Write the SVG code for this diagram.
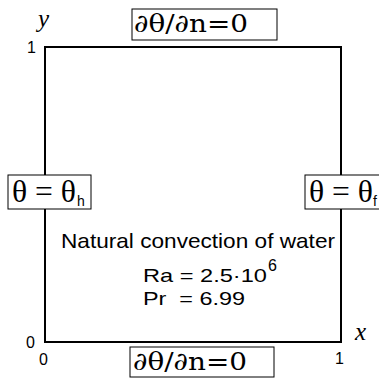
<svg xmlns="http://www.w3.org/2000/svg" width="379" height="378" viewBox="0 0 379 378">
<style>
.box{fill:#fff;stroke:#000;stroke-width:1}
.bc{font-family:"DejaVu Serif","Liberation Serif",serif;font-size:25px}
.th{font-family:"Liberation Serif",serif;font-size:31px}
.sub{font-family:"Liberation Sans",Arial,sans-serif;font-size:14px}
.ax{font-family:"Liberation Serif",serif;font-style:italic;font-size:25px}
.tk{font-family:"Liberation Sans",Arial,sans-serif;font-size:16px}
.lab{font-family:"Liberation Sans",Arial,sans-serif;font-size:21px}
.num{font-family:"Liberation Sans",Arial,sans-serif;font-size:19px}
</style>
<rect width="379" height="378" fill="#fff"/>
<g id="domain">
<rect x="45" y="47" width="296" height="295" fill="none" stroke="#000" stroke-width="2"/>
</g>
<g id="axes">
<text class="ax" x="38" y="27">y</text>
<text class="ax" x="355" y="340">x</text>
<text class="tk" x="27" y="53">1</text>
<text class="tk" x="26" y="348">0</text>
<text class="tk" x="39" y="365">0</text>
<text class="tk" x="335" y="364">1</text>
</g>
<g id="bc-top">
<rect class="box" x="132" y="9" width="145" height="31"/>
<text class="bc" x="134" y="32" textLength="114" lengthAdjust="spacingAndGlyphs">∂θ/∂n=0</text>
</g>
<g id="bc-left">
<rect class="box" x="8" y="175" width="83" height="34"/>
<text class="th" x="12" y="202" textLength="64" lengthAdjust="spacingAndGlyphs">θ = θ</text>
<text class="sub" x="77" y="206">h</text>
</g>
<g id="bc-right">
<rect class="box" x="305" y="175" width="80" height="34"/>
<text class="th" x="309" y="202" textLength="64" lengthAdjust="spacingAndGlyphs">θ = θ</text>
<text class="sub" x="373" y="206">f</text>
</g>
<g id="bc-bottom">
<rect class="box" x="130" y="347" width="144" height="30"/>
<text class="bc" x="133" y="370" textLength="114" lengthAdjust="spacingAndGlyphs">∂θ/∂n=0</text>
</g>
<g id="label">
<text class="lab" x="61" y="248" textLength="274" lengthAdjust="spacingAndGlyphs">Natural convection of water</text>
<text class="num" x="143" y="282" textLength="124" lengthAdjust="spacingAndGlyphs">Ra = 2.5·10</text>
<text class="tk" x="268" y="271" font-size="14">6</text>
<text class="num" x="143" y="305" textLength="102" lengthAdjust="spacingAndGlyphs" xml:space="preserve">Pr  = 6.99</text>
</g>
</svg>
